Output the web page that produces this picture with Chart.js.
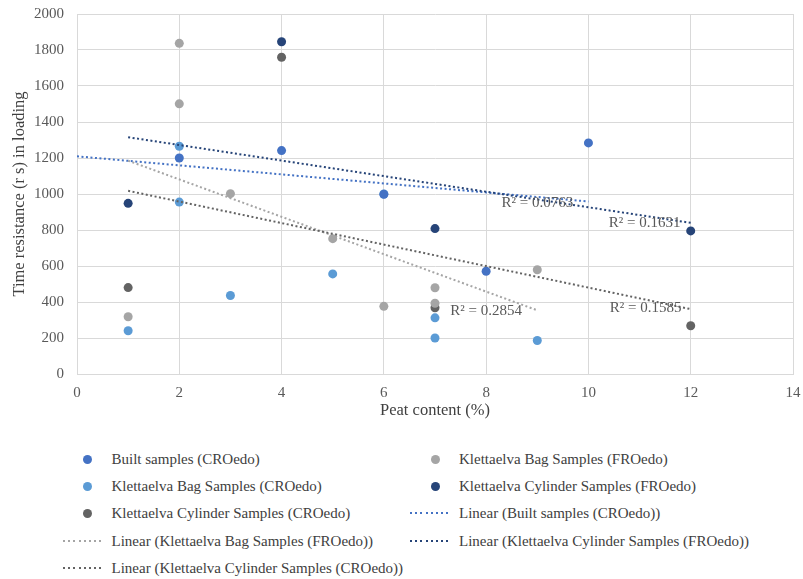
<!DOCTYPE html>
<html>
<head>
<meta charset="utf-8">
<script src="https://cdn.jsdelivr.net/npm/chart.js@4"></script>
<style>
body{margin:0;background:#fff;width:803px;height:579px;position:relative;overflow:hidden;font-family:'Liberation Serif','Times New Roman',serif;color:#404040}
#wrap{position:absolute;left:0;top:0;width:803px;height:430px}
.item{position:absolute;left:0;height:26px;line-height:26px;font-size:15px;white-space:nowrap}
.dot{position:absolute;width:9px;height:9px;border-radius:50%;top:8.5px}
.dash{position:absolute;width:42px;height:2px;top:12px}
.txt{position:absolute;top:0}
</style>
</head>
<body>
<div id="wrap"><canvas id="chart" width="803" height="430"></canvas></div>
<div id="legend"></div>
<script>
// peat content (%) / time resistance (s)
const builtX = [2, 4, 6, 8, 10];
const builtY = [1200, 1241, 998, 571, 1284];
const bagCroX = [1, 2, 2, 3, 5, 6, 7, 7, 9];
const bagCroY = [240, 1265, 955, 436, 556, 1000, 312, 200, 186];
const bagFroX = [1, 2, 2, 3, 5, 6, 7, 7, 9];
const bagFroY = [318, 1837, 1501, 1002, 752, 376, 479, 393, 579];
const cylFroX = [1, 4, 7, 12];
const cylFroY = [948, 1846, 808, 795];
const cylCroX = [1, 4, 7, 12];
const cylCroY = [480, 1760, 368, 268];

// trendline x-range and R² label (text + anchor in data units)
const trendNames = ['built', 'bagFro', 'cylFro', 'cylCro'];
const trendRange = [[0, 10], [1, 9], [1, 12], [1, 12]];
const r2Text = ['R² = 0.0763', 'R² = 0.2854', 'R² = 0.1631', 'R² = 0.1585'];
const r2Pos = [[9.0, 948], [8.0, 347], [11.1, 837], [11.12, 364]];

const FONT = "'Liberation Serif', 'Times New Roman', serif";
const TXT = '#595959';
const TITLE = '#404040';

const pts = (xs, ys) => xs.map((x, i) => ({x: x, y: ys[i]}));

function fit(xs, ys, range) {
    const n = xs.length;
    const mx = xs.reduce((a, b) => a + b, 0) / n, my = ys.reduce((a, b) => a + b, 0) / n;
    let sxy = 0, sxx = 0;
    xs.forEach((x, i) => { sxy += (x - mx) * (ys[i] - my); sxx += (x - mx) * (x - mx); });
    const b = sxy / sxx, a = my - b * mx;
    return range.map(x => ({x: x, y: a + b * x}));
}

const series = {
    built:  {label: 'Built samples (CROedo)', color: '#4472C4', x: builtX, y: builtY},
    bagCro: {label: 'Klettaelva Bag Samples (CROedo)', color: '#5B9BD5', x: bagCroX, y: bagCroY},
    bagFro: {label: 'Klettaelva Bag Samples (FROedo)', color: '#A5A5A5', x: bagFroX, y: bagFroY},
    cylFro: {label: 'Klettaelva Cylinder Samples (FROedo)', color: '#264478', x: cylFroX, y: cylFroY},
    cylCro: {label: 'Klettaelva Cylinder Samples (CROedo)', color: '#636363', x: cylCroX, y: cylCroY}
};

const pointOrder = ['built', 'bagFro', 'bagCro', 'cylFro', 'cylCro'];
const datasets = [];
pointOrder.forEach(k => {
    const s = series[k];
    datasets.push({label: s.label, data: pts(s.x, s.y), backgroundColor: s.color, borderColor: s.color,
        pointRadius: 4.5, pointHoverRadius: 4.5, pointBorderWidth: 0, showLine: false});
});
trendNames.forEach((k, i) => {
    const s = series[k];
    datasets.unshift({label: 'Linear (' + s.label + ')', data: fit(s.x, s.y, trendRange[i]), borderColor: s.color,
        borderWidth: 2, borderDash: [2, 2.5], pointRadius: 0, showLine: true, fill: false});
});

const r2Labels = {
    id: 'r2Labels',
    afterDatasetsDraw(chart) {
        const ctx = chart.ctx, sx = chart.scales.x, sy = chart.scales.y;
        ctx.save();
        ctx.font = '15px ' + FONT;
        ctx.fillStyle = TXT;
        ctx.textAlign = 'center';
        ctx.textBaseline = 'middle';
        r2Text.forEach((t, i) => ctx.fillText(t, sx.getPixelForValue(r2Pos[i][0]), sy.getPixelForValue(r2Pos[i][1])));
        ctx.restore();
    }
};

new Chart(document.getElementById('chart'), {
    type: 'scatter',
    data: {datasets: datasets},
    plugins: [r2Labels],
    options: {
        responsive: false, animation: false,
        layout: {padding: {top: 14, right: 10, left: 0, bottom: 0}},
        plugins: {legend: {display: false}, tooltip: {enabled: false}},
        scales: {
            x: {
                type: 'linear', min: 0, max: 14,
                ticks: {stepSize: 2, color: TXT, font: {family: FONT, size: 15}, padding: 10},
                grid: {color: '#d9d9d9', drawTicks: false},
                border: {color: '#d9d9d9'},
                title: {display: true, text: 'Peat content (%)', color: TITLE, font: {family: FONT, size: 16.5}, padding: {top: 0, bottom: 9}},
                afterFit: s => { s.height = 56; s.paddingRight = 0; s.paddingLeft = 0; }
            },
            y: {
                min: 0, max: 2000,
                ticks: {stepSize: 200, color: TXT, font: {family: FONT, size: 15}, padding: 13, callback: v => String(v)},
                grid: {color: '#d9d9d9', drawTicks: false},
                border: {color: '#d9d9d9'},
                title: {display: true, text: 'Time resistance (r s) in loading', color: TITLE, font: {family: FONT, size: 16.5}, padding: {top: 10, bottom: 0}},
                afterFit: s => { s.width = 77; s.paddingTop = 0; s.paddingBottom = 0; }
            }
        }
    }
});

// legend: two columns, row-major like the reference
const legendOrder = [
    ['dot', 'built'], ['dot', 'bagFro'], ['dot', 'bagCro'], ['dot', 'cylFro'], ['dot', 'cylCro'],
    ['line', 'built'], ['line', 'bagFro'], ['line', 'cylFro'], ['line', 'cylCro']
];
const legend = document.getElementById('legend');
legendOrder.forEach((it, i) => {
    const s = series[it[1]];
    const col = i % 2, row = Math.floor(i / 2);
    const el = document.createElement('div');
    el.className = 'item';
    el.style.top = (459 + row * 27.2 - 13) + 'px';
    const mk = document.createElement('span');
    if (it[0] === 'dot') {
        mk.className = 'dot';
        mk.style.background = s.color;
        mk.style.left = ((col ? 435 : 87.5) - 4.5) + 'px';
    } else {
        mk.className = 'dash';
        mk.style.background = 'repeating-linear-gradient(to right,' + s.color + ' 0 2px,transparent 2px 5.2px)';
        mk.style.left = (col ? 410 : 63) + 'px';
    }
    const tx = document.createElement('span');
    tx.className = 'txt';
    tx.style.left = (col ? 459 : 111.5) + 'px';
    tx.innerText = it[0] === 'dot' ? s.label : 'Linear (' + s.label + ')';
    el.appendChild(mk); el.appendChild(tx);
    legend.appendChild(el);
});
</script>
</body>
</html>
